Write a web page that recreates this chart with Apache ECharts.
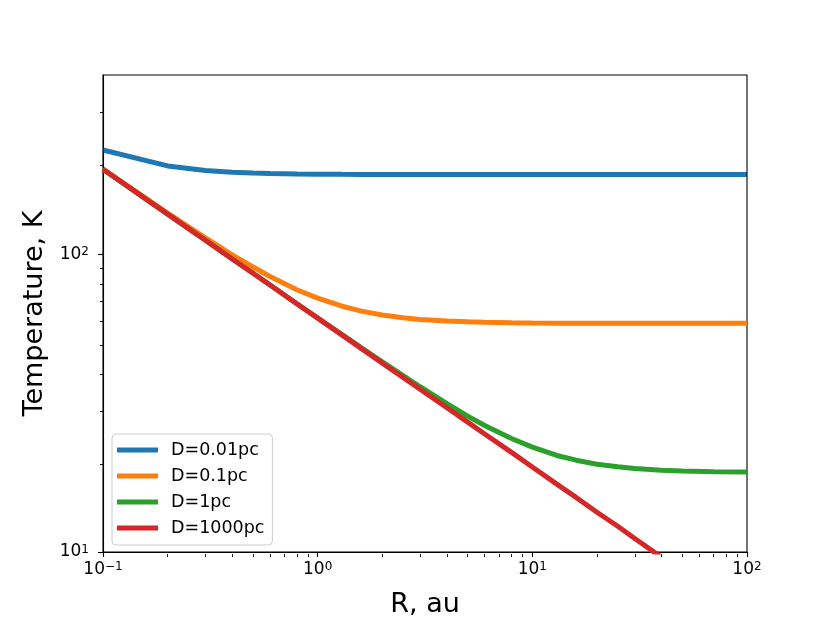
<!DOCTYPE html>
<html style="height: 100%">
    <head>
        <meta charset="utf-8">
    </head>
    <body style="height: 100%; margin: 0; background: #fff">
        <div id="container" style="width: 830px; height: 623px"></div>
        <script type="text/javascript" src="https://cdn.jsdelivr.net/npm/echarts@6/dist/echarts.min.js"></script>
    </body>
</html>
<script type="text/javascript">
    // R in au, temperatures in K
    var radius = [0.1, 0.2, 0.3, 0.4, 0.5, 0.6, 0.8, 1, 1.3, 1.6, 2, 2.5, 3, 4, 5, 6, 8, 10, 13, 16, 20, 25, 30, 40, 50, 70, 100];
    var tD001 = [224, 198, 191.0, 188.5, 187.3, 186.7, 186.05, 185.74, 185.52, 185.42, 185.35, 185.3, 185.2, 185.2, 185.2, 185.2, 185.2, 185.2, 185.2, 185.2, 185.2, 185.2, 185.2, 185.2, 185.2, 185.2, 185.2];
    var tD01 = [193.4, 137.6, 113.5, 99.5, 90.6, 84.2, 76.0, 71.2, 66.9, 64.4, 62.5, 61.2, 60.4, 59.65, 59.3, 59.07, 58.87, 58.77, 58.7, 58.66, 58.6, 58.6, 58.6, 58.6, 58.6, 58.6, 58.6];
    var tD1 = [192.9, 136.4, 111.4, 96.4, 86.3, 78.8, 68.2, 61.1, 53.7, 48.5, 43.5, 39.1, 35.9, 31.5, 28.6, 26.6, 24.06, 22.5, 21.1, 20.34, 19.7, 19.32, 19.07, 18.83, 18.7, 18.61, 18.55];
    var tD1000 = [192.9, 136.4, 111.4, 96.4, 86.3, 78.8, 68.2, 61.0, 53.5, 48.2, 43.1, 38.6, 35.2, 30.5, 27.3, 24.9, 21.6, 19.3, 16.9, 15.25, 13.6, 12.2, 11.1, 9.6, 8.6, 7.3, 6.1];
    var seriesNames = ['D=0.01pc', 'D=0.1pc', 'D=1pc', 'D=1000pc'];
    var seriesColors = ['#1f77b4', '#ff7f0e', '#2ca02c', '#d62728'];

    var xMajor = [0.1, 1, 10, 100];
    var xMinor = [0.2, 0.3, 0.4, 0.5, 0.6, 0.7, 0.8, 0.9, 2, 3, 4, 5, 6, 7, 8, 9, 20, 30, 40, 50, 60, 70, 80, 90];
    var yMajor = [10, 100];
    var yMinor = [20, 30, 40, 50, 60, 70, 80, 90, 200, 300];

    var font = 'DejaVu Sans';
    var dom = document.getElementById("container");
    var myChart = echarts.init(dom);
    var option;

    function pairs(ys) {
        return radius.map(function (r, i) { return [r, ys[i]]; });
    }
    function powLabel(v) {
        var e = Math.round(Math.log(v) / Math.LN10);
        return '{b|10}{s|' + (e < 0 ? '\u2212' + (-e) : e) + '}';
    }
    var labelRich = {
        b: {fontSize: 17, fontFamily: font, color: '#000', lineHeight: 17, padding: [6, 0, 0, 0], verticalAlign: 'bottom'},
        s: {fontSize: 12, fontFamily: font, color: '#000', lineHeight: 12, verticalAlign: 'top'}
    };
    var axisBlack = {lineStyle: {color: '#000', width: 1.1}};

    var allSeries = [tD001, tD01, tD1, tD1000];

    option = {
      backgroundColor: '#fff',
      animation: false,
      grid: [
        {left: 103, right: 83, top: 75, bottom: 69, show: true, borderColor: '#000', borderWidth: 1.1, z: 3},
        {left: 103, right: 83, top: 75, bottom: 69}
      ],
      legend: {
        orient: 'vertical',
        left: 112,
        top: 434,
        data: seriesNames,
        icon: 'rect',
        itemWidth: 41,
        itemHeight: 5,
        itemGap: 6,
        padding: [6, 8, 7, 5],
        backgroundColor: 'rgba(255,255,255,0.8)',
        borderColor: '#cccccc',
        borderWidth: 1,
        borderRadius: 4,
        textStyle: {fontFamily: font, fontSize: 17.5, color: '#000', lineHeight: 20, padding: [0, 0, 0, 8]}
      },
      xAxis: [
        {
          type: 'log', logBase: 10, min: 0.1, max: 100, gridIndex: 0,
          name: 'R, au', nameLocation: 'middle', nameGap: 39,
          nameTextStyle: {fontFamily: font, fontSize: 27, color: '#000'},
          axisLine: axisBlack,
          axisTick: {length: 5, lineStyle: {color: '#000', width: 1.1}, customValues: xMajor},
          axisLabel: {customValues: xMajor, formatter: powLabel, rich: labelRich, margin: 9, fontSize: 17, fontFamily: font},
          splitLine: {show: false}
        },
        {
          type: 'log', logBase: 10, min: 0.1, max: 100, gridIndex: 1,
          axisLine: {show: false},
          axisTick: {length: 3, lineStyle: {color: '#000', width: 0.9}, customValues: xMinor},
          axisLabel: {show: false},
          splitLine: {show: false}
        }
      ],
      yAxis: [
        {
          type: 'log', logBase: 10, min: 10, max: 400, gridIndex: 0,
          name: 'Temperature, K', nameLocation: 'middle', nameGap: 50,
          nameTextStyle: {fontFamily: font, fontSize: 27, color: '#000'},
          axisLine: axisBlack,
          axisTick: {length: 5, lineStyle: {color: '#000', width: 1.1}, customValues: yMajor},
          axisLabel: {customValues: yMajor, formatter: powLabel, rich: labelRich, margin: 14, fontSize: 17, fontFamily: font},
          splitLine: {show: false}
        },
        {
          type: 'log', logBase: 10, min: 10, max: 400, gridIndex: 1,
          axisLine: {show: false},
          axisTick: {length: 3, lineStyle: {color: '#000', width: 0.9}, customValues: yMinor},
          axisLabel: {show: false},
          splitLine: {show: false}
        }
      ],
      series: allSeries.map(function (ys, i) {
        return {
          name: seriesNames[i],
          type: 'line',
          xAxisIndex: 0,
          yAxisIndex: 0,
          data: pairs(ys),
          showSymbol: false,
          clip: true,
          color: seriesColors[i],
          lineStyle: {width: 5, color: seriesColors[i]},
          itemStyle: {color: seriesColors[i]},
          z: 2 + i
        };
      })
    };

    if (option && typeof option === 'object') {
        myChart.setOption(option);
    }
</script>
